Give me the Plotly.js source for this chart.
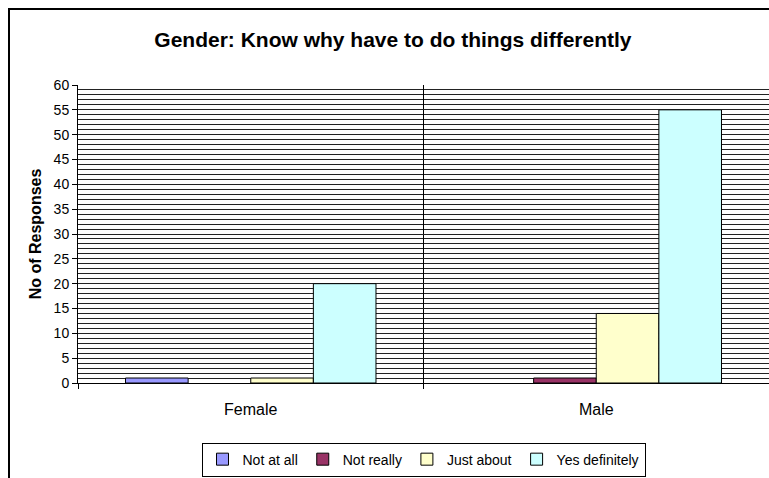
<!DOCTYPE html>
<html>
<head>
<meta charset="utf-8">
<script src="https://cdn.plot.ly/plotly-3.0.1.min.js"></script>
<style>
  html, body { margin: 0; padding: 0; background: #fff; overflow: hidden; }
  #wrap { position: relative; width: 769px; height: 478px; }
  #chart { position: absolute; left: 0; top: 0; width: 769px; height: 478px; }
  #frame { position: absolute; left: 8px; top: 8px; width: 800px; height: 520px;
           border: 2px solid #000; box-sizing: border-box; pointer-events: none; }
</style>
</head>
<body>
<div id="wrap">
  <div id="chart"></div>
  <div id="frame"></div>
</div>
<script>
// Response counts by gender
const genders = ['Female', 'Male'];
const notAtAll = [1, 0];
const notReally = [0, 1];
const justAbout = [1, 14];
const yesDefinitely = [20, 55];

const seriesNames = ['Not at all', 'Not really', 'Just about', 'Yes definitely'];
const seriesColors = ['#9999FF', '#993366', '#FFFFCC', '#CCFFFF'];
const seriesValues = [notAtAll, notReally, justAbout, yesDefinitely];

const yTicks = [0, 5, 10, 15, 20, 25, 30, 35, 40, 45, 50, 55, 60];

const FONT = 'Arial, "Liberation Sans", sans-serif';

// Zero counts leave an empty slot (no flat outline at the baseline)
const traces = seriesNames.map((name, i) => ({
  type: 'bar',
  name: name,
  x: genders,
  y: seriesValues[i].map(v => (v === 0 ? null : v)),
  marker: { color: seriesColors[i], line: { color: '#000', width: 1 } },
  hoverinfo: 'x+y+name'
}));

const layout = {
  width: 769,
  height: 478,
  margin: { l: 78, r: 0, t: 85, b: 95 },
  paper_bgcolor: '#fff',
  plot_bgcolor: '#fff',
  font: { family: FONT, color: '#000', size: 14 },
  title: {
    text: '<b>Gender: Know why have to do things differently</b>',
    font: { family: FONT, size: 21, color: '#000' },
    x: 0.511, xref: 'container', xanchor: 'center',
    y: 0.918, yref: 'container', yanchor: 'middle'
  },
  barmode: 'group',
  bargap: 0.275,
  bargroupgap: 0,
  showlegend: true,
  legend: {
    orientation: 'h',
    x: 0.5, xanchor: 'center',
    y: 0.003, yref: 'container', yanchor: 'bottom',
    bordercolor: '#000', borderwidth: 1, bgcolor: '#fff',
    font: { family: FONT, size: 14, color: '#000' },
    itemwidth: 30, tracegroupgap: 0
  },
  xaxis: {
    type: 'category',
    tickson: 'boundaries',
    ticks: 'outside', ticklen: 5, tickcolor: '#000', tickwidth: 1,
    showline: true, linecolor: '#000', linewidth: 1,
    showgrid: true, gridcolor: '#000', gridwidth: 1,
    tickfont: { family: FONT, size: 16, color: '#000' },
    ticklabelstandoff: 12,
    zeroline: false, fixedrange: true
  },
  yaxis: {
    range: [0, 60],
    tickvals: yTicks,
    ticktext: yTicks.map(String),
    ticks: 'outside', ticklen: 5, tickcolor: '#000', tickwidth: 1,
    showline: true, linecolor: '#000', linewidth: 1,
    showgrid: true, gridcolor: '#222', gridwidth: 1,
    minor: { dtick: 1, showgrid: true, gridcolor: '#222', gridwidth: 1 },
    tickfont: { family: FONT, size: 14, color: '#000' },
    zeroline: false, fixedrange: true,
    title: {
      text: '<b>No of Responses</b>',
      font: { family: FONT, size: 16, color: '#000' },
      standoff: 8
    }
  }
};

Plotly.newPlot('chart', traces, layout, { displayModeBar: false, staticPlot: true });
</script>
</body>
</html>
